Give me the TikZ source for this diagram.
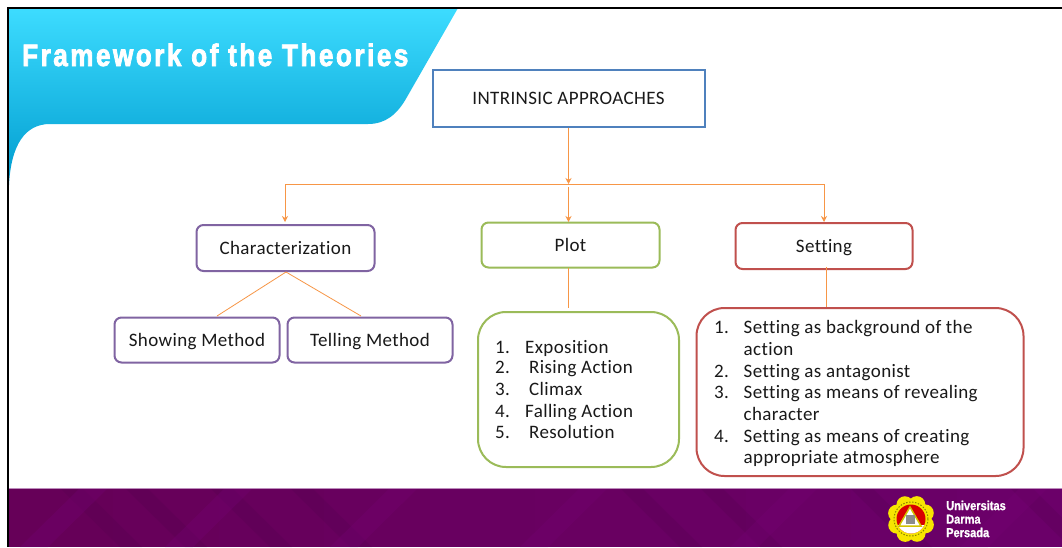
\documentclass[tikz,border=0pt]{standalone}
\usepackage{fontspec}
\setmainfont[LetterSpace=2,Ligatures=CommonOff]{Carlito}
\newfontfamily\titlefont[LetterSpace=8.2,FakeStretch=0.84,FakeBold=2.5]{Liberation Sans Bold}
\newfontfamily\logofont[FakeStretch=0.85,FakeBold=1]{Liberation Sans Bold}
\usetikzlibrary{arrows.meta,calc,positioning}
\definecolor{linkorange}{HTML}{F79646}
\definecolor{bluebox}{HTML}{4F81BD}
\definecolor{purplebox}{HTML}{8064A2}
\definecolor{greenbox}{HTML}{9BBB59}
\definecolor{redbox}{HTML}{C0504D}
\definecolor{bandleft}{HTML}{660058}
\definecolor{bandright}{HTML}{6B006B}
\definecolor{bandshade}{HTML}{50004C}
\definecolor{bandlight}{HTML}{740072}
\definecolor{tabtop}{HTML}{3DDCFF}
\definecolor{tabbottom}{HTML}{009CCF}
\definecolor{logoyellow}{HTML}{F7E500}
\tikzset{
	box/.style={draw,rounded corners=7pt,line width=2pt,font=\fontsize{19}{21}\selectfont,text=black!90,inner sep=0pt,text height=16pt,text depth=4pt},
	listbox/.style={draw,rounded corners=28pt,line width=2pt},
	listitem/.style={anchor=base west,inner sep=0pt,text=black!90,font=\fontsize{19}{21}\selectfont},
	link/.style={draw=linkorange,line width=0.8pt},
	linkarrow/.style={link,-{Stealth[length=6pt,width=6pt]}},
}
\begin{document}
\begin{tikzpicture}[x=1pt,y=-1pt]
	\useasboundingbox (0,0) rectangle (1062,547);
	\fill[white] (0,0) rectangle (1062,547);
	% header tab
	\shade[top color=tabtop,bottom color=tabbottom]
		(9,8) -- (458,8) -- (407,97) .. controls (397,115) and (385,124) .. (368,124)
		-- (50,124) .. controls (25,124) and (11,145) .. (9,185) -- cycle;
	\node[anchor=base west,text=white,inner sep=0pt,font=\titlefont\fontsize{31}{34}\selectfont] (title) at (22,66) {Framework of the Theories};
	% footer band
	\foreach \pct in {0,10,...,90}
		\fill[bandright!\pct!bandleft] ({8+\pct*10.54},488) rectangle (1062,547);
	\begin{scope}
		\clip (8,488) rectangle (1062,547);
		\foreach \xa in {60,125,210,290,620,700,850,1010}
			\fill[bandshade,opacity=.22] (\xa,488) -- (\xa+22,488) -- (\xa+82,547) -- (\xa+60,547) -- cycle;
		\foreach \xa in {20,165,330,520,730,960}
			\fill[bandlight,opacity=.35] (\xa,547) -- (\xa+28,547) -- (\xa+88,488) -- (\xa+60,488) -- cycle;
	\end{scope}
	\draw[draw=bandright!45,line width=0.8pt] (9,488) -- (1062,488);
	% frame
	\draw[line width=2.2pt] (1062,8) -- (8,8) -- (8,547);
	% logo
	\foreach \ang in {0,45,...,315}
		\fill[logoyellow] (911,519) ++(\ang+22:15.5) circle (8.5);
	\fill[logoyellow] (911,519) circle (19);
	\draw[olive,line width=1pt,dash pattern=on 1.5pt off 1.5pt] (911,519) circle (17);
	\fill[red!85!black] (911,519) circle (14.5);
	\begin{scope}
		\clip (911,519) circle (14.5);
		\fill[white] (896,525) rectangle (926,534);
	\end{scope}
	\fill[white,draw=logoyellow!85!black,line width=1.5pt] (910,507) -- (921,526) -- (899,526) -- cycle;
	\fill[black!45] (906,515) rectangle (915,524);
	\node[anchor=north west,text=white,inner sep=0pt,align=left,font=\logofont\fontsize{13}{13.5}\selectfont] (logotext) at (946,500.5) {Universitas\\Darma\\Persada};
	% boxes
	\node[box,draw=bluebox,rounded corners=0pt,minimum width=272pt,minimum height=57pt] (intrinsic) at (568.5,98) {INTRINSIC APPROACHES};
	\node[box,draw=purplebox,minimum width=178pt,minimum height=46pt] (character) at (285.5,248) {Characterization};
	\node[box,draw=greenbox,minimum width=178pt,minimum height=45pt] (plot) at (570.5,245) {Plot};
	\node[box,draw=redbox,minimum width=177pt,minimum height=46pt] (setting) at (824,246) {Setting};
	\node[box,draw=purplebox,minimum width=165pt,minimum height=45pt] (showing) at (197,340) {Showing Method};
	\node[box,draw=purplebox,minimum width=165pt,minimum height=45pt] (telling) at (370,340) {Telling Method};
	\node[listbox,draw=greenbox,minimum width=201pt,minimum height=155pt] (plotlist) at (578.5,389.5) {};
	\node[listbox,draw=redbox,minimum width=327pt,minimum height=168pt] (settinglist) at (860,392) {};
	% plot list
	\foreach \num/\txt/\ypos/\xpos in {1./Exposition/353.5/525,2./Rising Action/373.5/529,3./Climax/395.5/529,4./Falling Action/417/525,5./Resolution/438.5/529}{
		\node[listitem] at (495,\ypos) {\num};
		\node[listitem] at (\xpos,\ypos) {\txt};
	}
	% setting list
	\foreach \num/\ypos in {1./333,2./377,3./398,4./442}
		\node[listitem] at (714,\ypos) {\num};
	\foreach \txt/\ypos in {Setting as background of the/333,action/355,Setting as antagonist/377,Setting as means of revealing/398,character/420,Setting as means of creating/442,appropriate atmosphere/463}
		\node[listitem] at (743.5,\ypos) {\txt};
	% connectors
	\coordinate (trunk) at (intrinsic.south |- 0,184);
	\coordinate (barleft) at (285,184);
	\coordinate (barright) at (824,184);
	\coordinate (charend) at (285,222);
	\coordinate (plotend) at (568.5,222);
	\coordinate (setend) at (824,222);
	\draw[linkarrow] (intrinsic.south) -- (trunk);
	\draw[link] (barleft) -- (barright);
	\draw[linkarrow] (barleft) -- (charend);
	\draw[linkarrow] (trunk) ++(0,3) -- (plotend);
	\draw[linkarrow] (barright) -- (setend);
	\coordinate (charfoot) at (286,272);
	\coordinate (showtop) at (217,316);
	\coordinate (telltop) at (361,316);
	\draw[link] (charfoot) -- (showtop);
	\draw[link] (charfoot) -- (telltop);
	\coordinate (plotfoot) at (568.5,268);
	\coordinate (plotlisttop) at (568.5,308);
	\draw[link] (plotfoot) -- (plotlisttop);
	\coordinate (setfoot) at (826,267);
	\coordinate (setlisttop) at (826,307);
	\draw[link] (setfoot) -- (setlisttop);
\end{tikzpicture}
\end{document}
